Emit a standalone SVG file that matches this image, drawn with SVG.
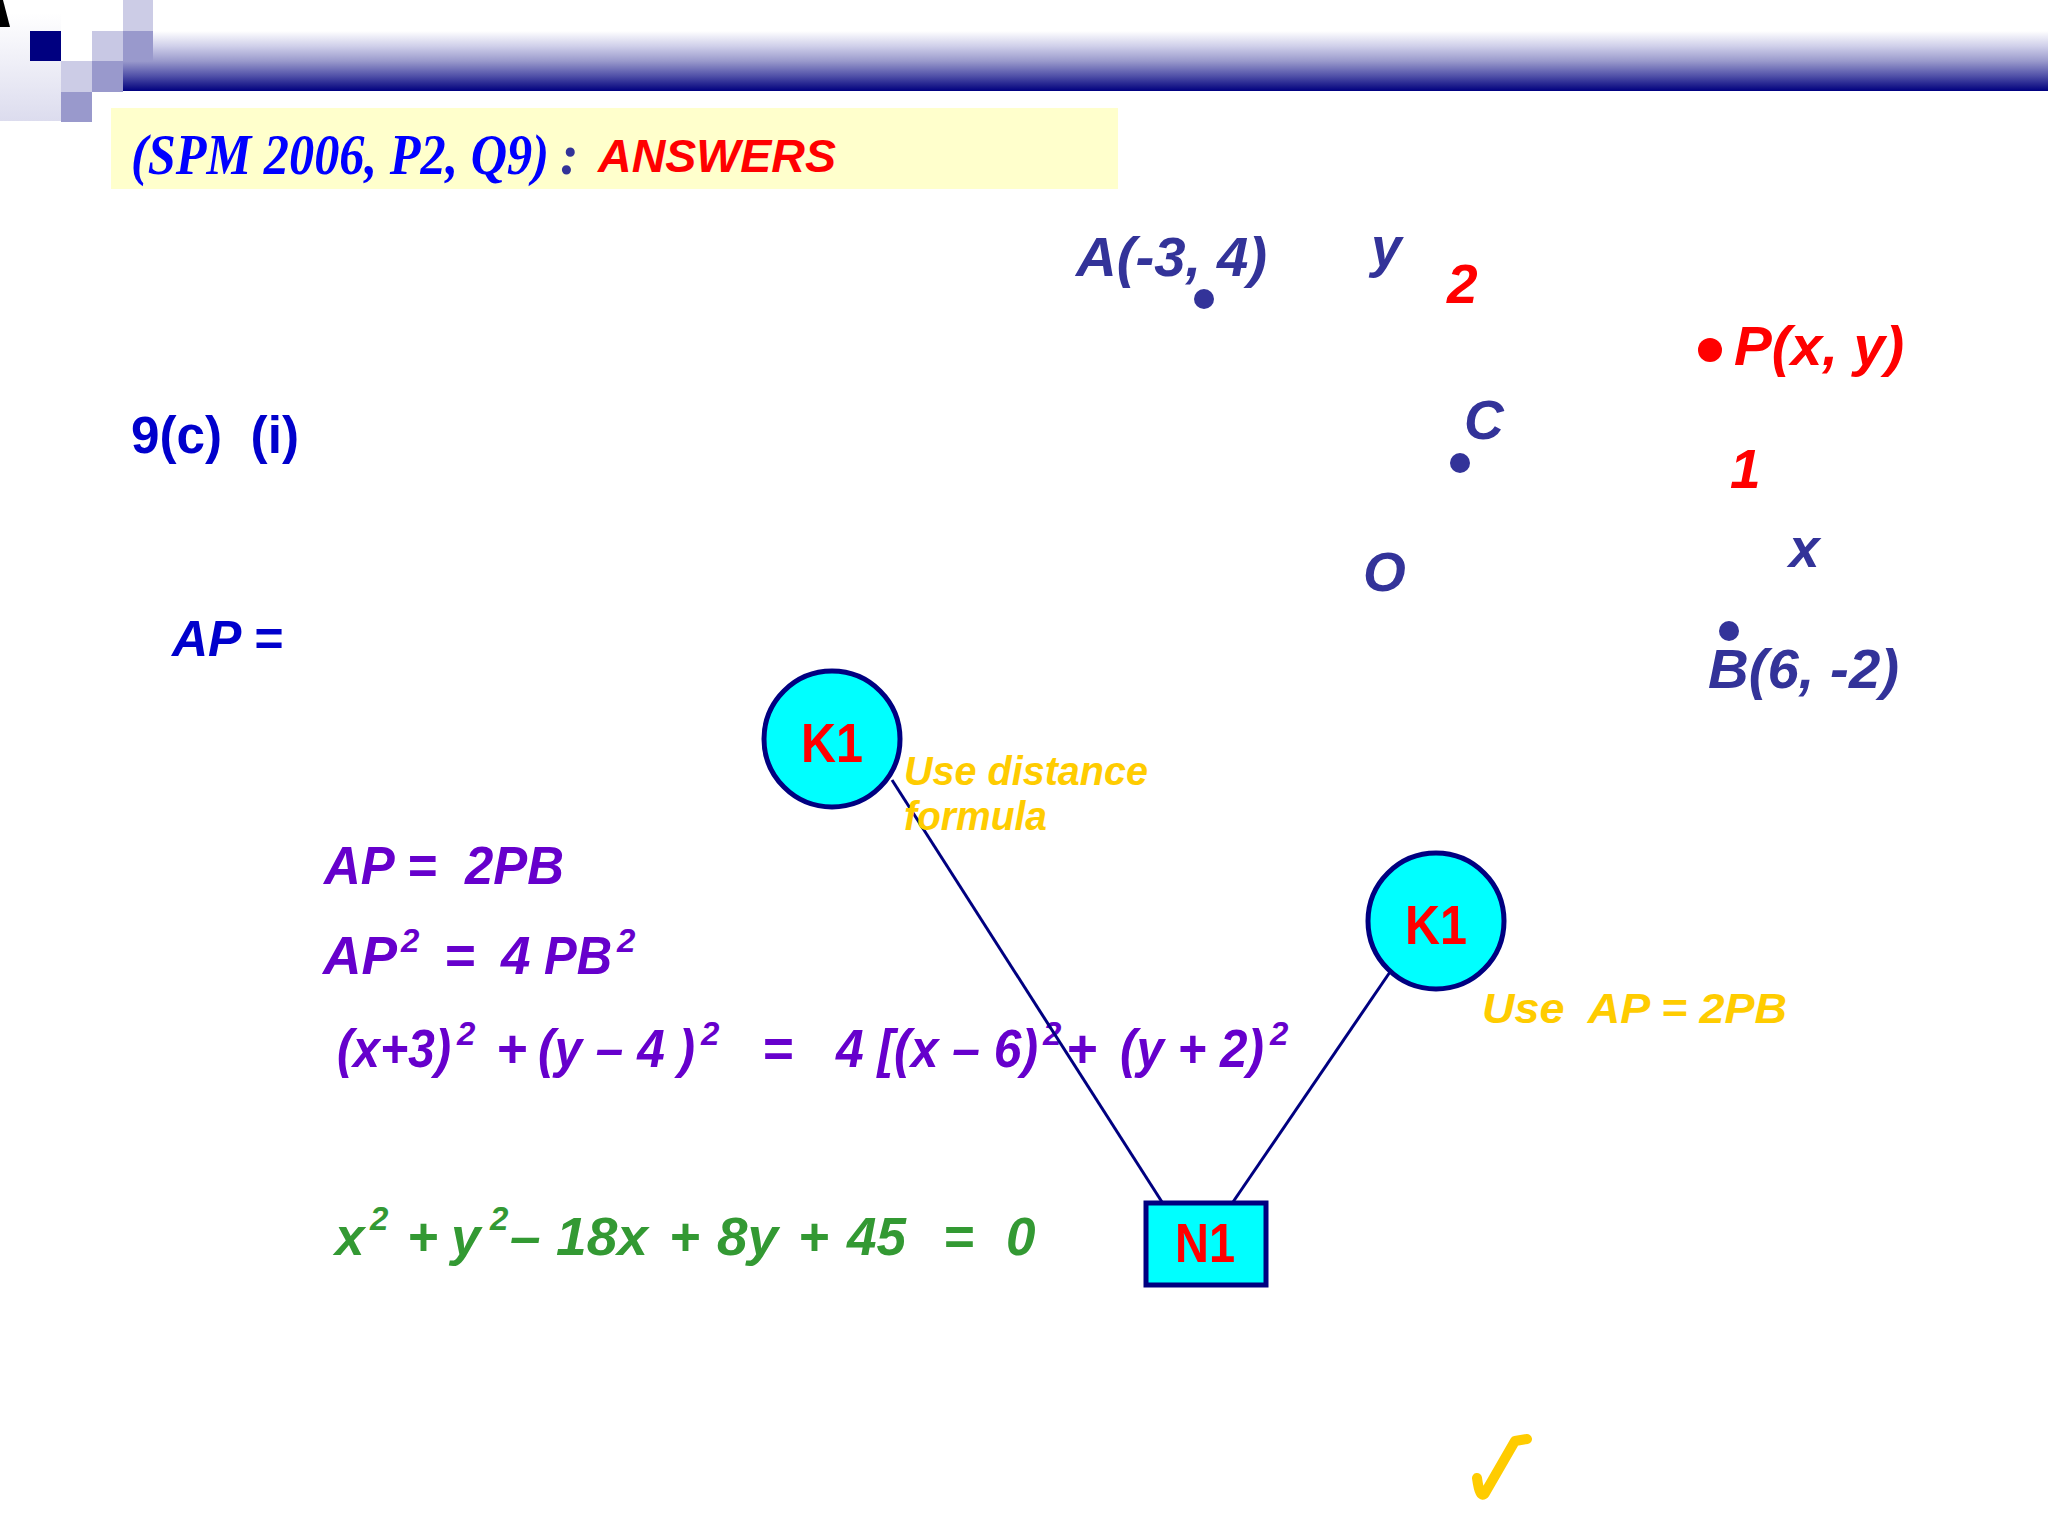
<svg xmlns="http://www.w3.org/2000/svg" width="2048" height="1536" viewBox="0 0 2048 1536">
<defs>
<linearGradient id="bar" x1="0" y1="0" x2="0" y2="1">
<stop offset="0" stop-color="#ffffff"/>
<stop offset="0.25" stop-color="#d0d0ea"/>
<stop offset="0.5" stop-color="#9a9acc"/>
<stop offset="0.75" stop-color="#5050a8"/>
<stop offset="0.92" stop-color="#1a1a8a"/>
<stop offset="1" stop-color="#000080"/>
</linearGradient>
<linearGradient id="faint" x1="0" y1="0" x2="0" y2="1">
<stop offset="0" stop-color="#ffffff"/>
<stop offset="1" stop-color="#dcdcee"/>
</linearGradient>
<style>
text{white-space:pre}
.pt{font-family:"Liberation Sans",Arial,sans-serif;font-weight:bold;font-style:italic;font-size:55px;fill:#333399}
.red{fill:#ff0000}
.pu{font-family:"Liberation Sans",Arial,sans-serif;font-weight:bold;font-style:italic;font-size:53px;fill:#6600cc}
.gr{font-family:"Liberation Sans",Arial,sans-serif;font-weight:bold;font-style:italic;font-size:53px;fill:#339933}
.sup{font-size:33px}
.gold{font-family:"Liberation Sans",Arial,sans-serif;font-weight:bold;font-style:italic;fill:#ffcc00}
.node{fill:#00ffff;stroke:#000080;stroke-width:5}
.lbl{font-family:"Liberation Sans",Arial,sans-serif;font-weight:bold;font-size:55px;fill:#ff0000;text-anchor:middle}
.dot{fill:#333399}
.conn line{stroke:#000080;stroke-width:3}
</style>
</defs>
<rect width="2048" height="1536" fill="#ffffff"/>
<g id="header">
<rect x="0" y="13" width="61" height="108" fill="url(#faint)"/>
<rect x="61" y="92" width="31" height="30" fill="#dcdcee"/>
<rect x="123" y="31" width="1925" height="60" fill="url(#bar)"/>
<polygon points="0,0 3,0 10,27 0,27" fill="#000000"/>
<rect x="30" y="31" width="31" height="30" fill="#000080"/>
<rect x="123" y="0" width="30" height="31" fill="#ccccE6"/>
<rect x="92" y="31" width="31" height="30" fill="#c8c8e4"/>
<rect x="123" y="31" width="30" height="30" fill="#9999cc"/>
<rect x="61" y="61" width="31" height="31" fill="#ccccE6"/>
<rect x="92" y="61" width="31" height="31" fill="#9999cc"/>
<rect x="61" y="92" width="31" height="30" fill="#9999cc"/>
</g>
<g id="title">
<rect x="111" y="108" width="1007" height="81" fill="#ffffcc"/>
<text x="131" y="174" font-family="'Liberation Serif','Times New Roman',serif" font-weight="bold" font-style="italic" font-size="58" fill="#0000ff" textLength="418" lengthAdjust="spacingAndGlyphs">(SPM 2006, P2, Q9)</text>
<text x="560" y="174" font-family="'Liberation Serif','Times New Roman',serif" font-weight="bold" font-style="italic" font-size="56" fill="#333399">:</text>
<text x="598" y="172" font-family="'Liberation Sans',Arial,sans-serif" font-weight="bold" font-style="italic" font-size="46" fill="#ff0000" textLength="238" lengthAdjust="spacingAndGlyphs">ANSWERS</text>
</g>
<g id="points">
<text class="pt" x="1076" y="276" textLength="191" lengthAdjust="spacingAndGlyphs">A(-3, 4)</text>
<circle class="dot" cx="1204" cy="299" r="10"/>
<text class="pt" x="1371" y="266" font-size="46">y</text>
<text class="pt red" x="1447" y="303">2</text>
<circle cx="1710" cy="350" r="12" fill="#ff0000"/>
<text class="pt red" x="1734" y="365" textLength="170" lengthAdjust="spacingAndGlyphs">P(x, y)</text>
<text class="pt" x="1464" y="439">C</text>
<circle class="dot" cx="1460" cy="463" r="10"/>
<text class="pt red" x="1730" y="488">1</text>
<text class="pt" x="1789" y="567" font-size="46">x</text>
<text class="pt" x="1363" y="591">O</text>
<circle class="dot" cx="1729" cy="631" r="10"/>
<text class="pt" x="1708" y="688" textLength="191" lengthAdjust="spacingAndGlyphs">B(6, -2)</text>
</g>
<g id="question">
<text x="131" y="453" font-family="'Liberation Sans',Arial,sans-serif" font-weight="bold" font-size="51" fill="#0000cc" textLength="168" lengthAdjust="spacingAndGlyphs">9(c)  (i)</text>
<text x="172" y="656" font-family="'Liberation Sans',Arial,sans-serif" font-weight="bold" font-style="italic" font-size="50" fill="#0000cc">AP =</text>
</g>
<g id="working">
<text class="pu" x="324" y="884" textLength="240" lengthAdjust="spacingAndGlyphs">AP =  2PB</text>
<text class="pu" x="323" y="974" textLength="74" lengthAdjust="spacingAndGlyphs">AP</text>
<text class="pu sup" x="401" y="952">2</text>
<text class="pu" x="444" y="974">=</text>
<text class="pu" x="501" y="974">4</text>
<text class="pu" x="544" y="974" textLength="68" lengthAdjust="spacingAndGlyphs">PB</text>
<text class="pu sup" x="617" y="952">2</text>
<text class="pu" x="337" y="1067" textLength="114" lengthAdjust="spacingAndGlyphs">(x+3)</text>
<text class="pu sup" x="457" y="1045">2</text>
<text class="pu" x="496" y="1067">+</text>
<text class="pu" x="538" y="1067" textLength="157" lengthAdjust="spacingAndGlyphs">(y – 4 )</text>
<text class="pu sup" x="701" y="1045">2</text>
<text class="pu" x="762" y="1067">=</text>
<text class="pu" x="836" y="1067" textLength="202" lengthAdjust="spacingAndGlyphs">4 [(x – 6)</text>
<text class="pu sup" x="1043" y="1045">2</text>
<text class="pu" x="1066" y="1067">+</text>
<text class="pu" x="1120" y="1067" textLength="144" lengthAdjust="spacingAndGlyphs">(y + 2)</text>
<text class="pu sup" x="1270" y="1045">2</text>
<text class="gr" x="335" y="1255">x</text>
<text class="gr sup" x="370" y="1230">2</text>
<text class="gr" x="407" y="1255">+</text>
<text class="gr" x="451" y="1255">y</text>
<text class="gr sup" x="490" y="1230">2</text>
<text class="gr" x="510" y="1255" textLength="138" lengthAdjust="spacingAndGlyphs">– 18x</text>
<text class="gr" x="669" y="1255">+</text>
<text class="gr" x="717" y="1255" textLength="61" lengthAdjust="spacingAndGlyphs">8y</text>
<text class="gr" x="798" y="1255">+</text>
<text class="gr" x="847" y="1255" textLength="59" lengthAdjust="spacingAndGlyphs">45</text>
<text class="gr" x="943" y="1255">=</text>
<text class="gr" x="1006" y="1255">0</text>
</g>
<g id="connectors" class="conn">
<line x1="892" y1="780" x2="1162" y2="1202"/>
<line x1="1390" y1="972" x2="1233" y2="1202"/>
</g>
<g id="k1a">
<circle class="node" cx="832" cy="739" r="68"/>
<text class="lbl" x="832" y="762" textLength="62" lengthAdjust="spacingAndGlyphs">K1</text>
</g>
<g id="k1b">
<circle class="node" cx="1436" cy="921" r="68"/>
<text class="lbl" x="1436" y="944" textLength="62" lengthAdjust="spacingAndGlyphs">K1</text>
</g>
<g id="n1">
<rect class="node" x="1146" y="1203" width="120" height="82"/>
<text class="lbl" x="1205" y="1262" textLength="60" lengthAdjust="spacingAndGlyphs">N1</text>
</g>
<g id="notes">
<text class="gold" x="904" y="785" font-size="40" textLength="244" lengthAdjust="spacingAndGlyphs">Use distance</text>
<text class="gold" x="904" y="830" font-size="40" textLength="143" lengthAdjust="spacingAndGlyphs">formula</text>
<text class="gold" x="1482" y="1023" font-size="43" textLength="305" lengthAdjust="spacingAndGlyphs">Use  AP = 2PB</text>
<path d="M1477,1478 Q1480,1500 1485,1493 L1515,1441 L1527,1439" fill="none" stroke="#ffcc00" stroke-width="10" stroke-linecap="round" stroke-linejoin="round"/>
</g>
</svg>
